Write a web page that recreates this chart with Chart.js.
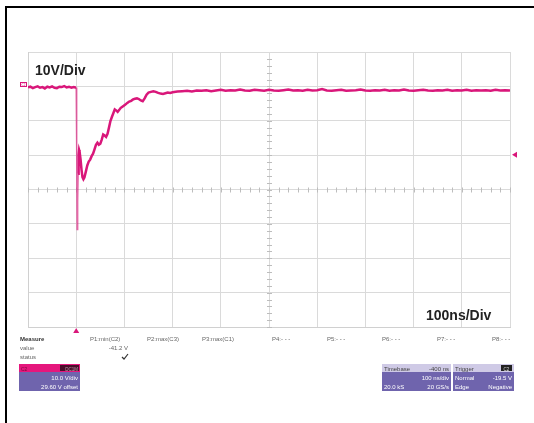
<!DOCTYPE html>
<html>
<head>
<meta charset="utf-8">
<script src="https://cdn.jsdelivr.net/npm/chart.js@4.4.0/dist/chart.umd.min.js"></script>
<style>
  html, body { margin: 0; padding: 0; background: #fff; }
  #wrap { position: relative; width: 534px; height: 423px; overflow: hidden; }
  #scope { position: absolute; left: 0; top: 0; }
  #frameTop { position: absolute; left: 5px; top: 6px; width: 529px; height: 2px; background: #000; }
  #frameLeft { position: absolute; left: 5px; top: 6px; width: 2px; height: 417px; background: #000; }
</style>
</head>
<body>
<div id="wrap">
  <canvas id="scope" width="534" height="423"></canvas>
  <div id="frameTop"></div>
  <div id="frameLeft"></div>
</div>
<script>
// Scope settings
const xTicks = [-100, 0, 100, 200, 300, 400, 500, 600, 700, 800, 900];        // ns, 100 ns/div
const yTicks = [-69.6, -59.6, -49.6, -39.6, -29.6, -19.6, -9.6, 0.4, 10.4];   // V, 10 V/div, 29.6 V offset
const centerTime = 400;
const centerVolt = -29.6;
const triggerLevel = -19.5;

// C2 trace
const timeNs = [
  -100, -95, -90, -85, -80, -75, -70, -65, -60, -55, -50, -45, -40, -35, -30, -25, -20, -15, -10, -5, -2,
  0, 1, 2, 3, 4, 5, 6, 7, 9, 11, 13, 15, 17, 20, 23, 26, 29, 32, 35, 38, 41, 44, 47, 50, 53, 56, 59, 62,
  65, 68, 71, 74, 77, 80, 83, 86, 89, 92, 95, 98, 102, 106, 110, 114, 118, 122, 126, 130, 134, 138, 142,
  146, 150, 155, 160, 165, 170, 175, 180, 185, 190, 195,
  200, 210, 220, 230, 240, 250, 260, 270, 280, 290,
  300, 310, 320, 330, 340, 350, 360, 370, 380, 390,
  400, 410, 420, 430, 440, 450, 460, 470, 480, 490,
  500, 510, 520, 530, 540, 550, 560, 570, 580, 590,
  600, 610, 620, 630, 640, 650, 660, 670, 680, 690,
  700, 710, 720, 730, 740, 750, 760, 770, 780, 790,
  800, 810, 820, 830, 840, 850, 860, 870, 880, 890, 900
];
const voltsC2 = [
  0.1, 0.3, -0.1, 0.2, 0.4, 0.0, 0.2, -0.2, 0.3, 0.1, 0.4, 0.0, -0.1, 0.3, 0.2, 0.5, 0.1, 0.3, 0.0, 0.2, 0.1,
  0.1, -17, -41.2, -33, -25, -19.5, -18.1, -18.6, -20.8, -23.8, -26.0, -26.6, -26.1, -24.4, -22.6, -21.5,
  -20.9, -19.9, -19.2, -17.9, -16.6, -16.0, -16.6, -16.3, -15.1, -13.6, -13.9, -14.3,
  -13.4, -11.6, -9.7, -8.5, -7.4, -6.3, -6.6, -7.0, -6.5, -5.9, -5.6, -5.3, -4.9, -4.4, -4.0, -3.8, -3.4,
  -3.2, -3.1, -3.3, -3.7, -3.9, -3.1,
  -2.0, -1.4, -1.2, -1.0, -1.2, -1.5, -1.7, -1.8, -1.6, -1.4, -1.5,
  -1.3, -1.1, -1.0, -0.9, -1.1, -0.8, -0.9, -0.7, -1.0, -0.8,
  -0.6, -0.9, -0.7, -0.8, -0.5, -0.8, -0.9, -0.6, -0.7, -0.9,
  -0.6, -0.8, -0.9, -0.7, -0.5, -0.8, -0.7, -0.9, -0.6, -0.8,
  -0.7, -0.4, -0.8, -0.9, -0.7, -0.6, -0.9, -0.8, -0.7, -0.5,
  -0.8, -0.9, -0.7, -0.8, -0.6, -0.9, -0.7, -0.8, -0.5, -0.8,
  -0.9, -0.7, -0.6, -0.8, -0.9, -0.7, -0.8, -0.6, -0.9, -0.7,
  -0.8, -0.6, -0.9, -0.7, -0.8, -0.7, -0.9, -0.6, -0.8, -0.7, -0.8
];

// Measurement bar
const measureNames = ['P1:min(C2)', 'P2:max(C3)', 'P3:max(C1)', 'P4:- - -', 'P5:- - -', 'P6:- - -', 'P7:- - -', 'P8:- - -'];
const measureX = [90, 147, 202, 272, 327, 382, 437, 492];
const measureValue = '-41.2 V';

const PINK = '#d9177a';
const PURPLE = '#6f64ad';
const HEADER = '#cfcae6';

function txt(ctx, s, x, y, font, color, align) {
    ctx.font = font;
    ctx.fillStyle = color;
    ctx.textAlign = align || 'left';
    ctx.textBaseline = 'alphabetic';
    ctx.fillText(s, x, y);
}

// Minor ticks on the centre cross, like on the scope screen
const centerTicks = {
    id: 'centerTicks',
    beforeDatasetsDraw(chart) {
        const { ctx, scales: { x, y } } = chart;
        const cy = y.getPixelForValue(centerVolt);
        const cx = x.getPixelForValue(centerTime);
        ctx.save();
        ctx.strokeStyle = '#bdbdbd';
        ctx.lineWidth = 1;
        ctx.beginPath();
        for (let t = -100; t <= 900; t += 20) {
            const px = Math.round(x.getPixelForValue(t)) + 0.5;
            ctx.moveTo(px, cy - 2);
            ctx.lineTo(px, cy + 3);
        }
        for (let v = -68; v <= 10; v += 2) {
            const py = Math.round(y.getPixelForValue(v - 1.6)) + 0.5;
            ctx.moveTo(cx - 2, py);
            ctx.lineTo(cx + 3, py);
        }
        ctx.stroke();
        ctx.restore();
    }
};

// Labels, markers and the status bar below the grid
const scopeDecor = {
    id: 'scopeDecor',
    afterDraw(chart) {
        const { ctx, scales: { x, y } } = chart;
        ctx.save();

        txt(ctx, '10V/Div', 35, 75, 'bold 14px "Liberation Sans", Arial, sans-serif', '#222');
        txt(ctx, '100ns/Div', 426, 320, 'bold 14px "Liberation Sans", Arial, sans-serif', '#222');

        // ground tag of C2
        const gy = Math.round(y.getPixelForValue(0));
        ctx.strokeStyle = PINK;
        ctx.lineWidth = 1;
        ctx.strokeRect(20.5, gy - 5.5, 6, 4);
        txt(ctx, 'C2', 23.5, gy - 2, '3px sans-serif', PINK, 'center');

        // trigger time marker (bottom)
        const tx = x.getPixelForValue(0);
        ctx.fillStyle = PINK;
        ctx.beginPath();
        ctx.moveTo(tx - 3, 333);
        ctx.lineTo(tx + 3, 333);
        ctx.lineTo(tx, 328);
        ctx.closePath();
        ctx.fill();

        // trigger level marker (right)
        const ty = y.getPixelForValue(triggerLevel);
        ctx.beginPath();
        ctx.moveTo(512, ty);
        ctx.lineTo(517, ty - 3);
        ctx.lineTo(517, ty + 3);
        ctx.closePath();
        ctx.fill();

        // measure table
        const small = '6px "Liberation Sans", Arial, sans-serif';
        txt(ctx, 'Measure', 20, 341, 'bold 6px "Liberation Sans", Arial, sans-serif', '#333');
        txt(ctx, 'value', 20, 350, small, '#666');
        txt(ctx, 'status', 20, 359, small, '#666');
        measureNames.forEach((n, i) => txt(ctx, n, measureX[i], 341, small, '#666'));
        txt(ctx, measureValue, 128, 350, small, '#666', 'right');
        ctx.strokeStyle = '#333';
        ctx.lineWidth = 1.2;
        ctx.beginPath();
        ctx.moveTo(122, 357);
        ctx.lineTo(124, 359);
        ctx.lineTo(128, 354);
        ctx.stroke();

        // channel box
        ctx.fillStyle = '#e5177d';
        ctx.fillRect(19, 364, 61, 8);
        ctx.fillStyle = '#4a0d2a';
        ctx.fillRect(60, 365, 19, 6);
        txt(ctx, 'C2', 21, 370.5, '5px "Liberation Sans", Arial, sans-serif', '#7a0a3c');
        txt(ctx, 'DC1M', 78, 370.5, '4.5px "Liberation Sans", Arial, sans-serif', '#c0a0b0', 'right');
        ctx.fillStyle = PURPLE;
        ctx.fillRect(19, 372, 61, 19);
        txt(ctx, '10.0 V/div', 78, 380, small, '#fff', 'right');
        txt(ctx, '29.60 V offset', 78, 389, small, '#fff', 'right');

        // timebase box
        ctx.fillStyle = HEADER;
        ctx.fillRect(382, 364, 69, 8);
        txt(ctx, 'Timebase', 384, 370.5, small, '#444');
        txt(ctx, '-400 ns', 449, 370.5, small, '#444', 'right');
        ctx.fillStyle = PURPLE;
        ctx.fillRect(382, 372, 69, 19);
        txt(ctx, '100 ns/div', 449, 380, small, '#fff', 'right');
        txt(ctx, '20.0 kS', 384, 389, small, '#fff');
        txt(ctx, '20 GS/s', 449, 389, small, '#fff', 'right');

        // trigger box
        ctx.fillStyle = HEADER;
        ctx.fillRect(453, 364, 61, 8);
        txt(ctx, 'Trigger', 455, 370.5, small, '#444');
        ctx.fillStyle = '#222';
        ctx.fillRect(501, 365, 11, 6);
        txt(ctx, 'C2', 506.5, 370.5, '4.5px "Liberation Sans", Arial, sans-serif', '#ddd', 'center');
        ctx.fillStyle = PURPLE;
        ctx.fillRect(453, 372, 61, 19);
        txt(ctx, 'Normal', 455, 380, small, '#fff');
        txt(ctx, '-19.5 V', 512, 380, small, '#fff', 'right');
        txt(ctx, 'Edge', 455, 389, small, '#fff');
        txt(ctx, 'Negative', 512, 389, small, '#fff', 'right');

        ctx.restore();
    }
};

const gridColor = ctx => '#dadada';

new Chart(document.getElementById('scope'), {
    type: 'line',
    data: {
        datasets: [{
            label: 'C2',
            data: timeNs.map((t, i) => ({ x: t, y: voltsC2[i] })),
            borderColor: PINK,
            borderWidth: 2.5,
            pointRadius: 0,
            tension: 0,
            segment: {
                // fast edges look fainter on the scope
                borderColor: c => Math.abs(c.p1.parsed.y - c.p0.parsed.y) > 6 ? 'rgba(217,23,122,0.65)' : undefined,
                borderWidth: c => Math.abs(c.p1.parsed.y - c.p0.parsed.y) > 6 ? 1.5 : undefined
            }
        }]
    },
    options: {
        responsive: false,
        animation: false,
        devicePixelRatio: 1,
        layout: { padding: { left: 28, right: 24, top: 52, bottom: 96 } },
        plugins: { legend: { display: false }, tooltip: { enabled: false } },
        scales: {
            x: {
                type: 'linear',
                min: -100,
                max: 900,
                afterBuildTicks: s => { s.ticks = xTicks.map(v => ({ value: v })); },
                ticks: { display: false },
                grid: { color: gridColor, drawTicks: false },
                border: { color: '#d0d0d0' }
            },
            y: {
                type: 'linear',
                min: -69.6,
                max: 10.4,
                afterBuildTicks: s => { s.ticks = yTicks.map(v => ({ value: v })); },
                ticks: { display: false },
                grid: { color: gridColor, drawTicks: false },
                border: { color: '#d0d0d0' }
            }
        }
    },
    plugins: [centerTicks, scopeDecor]
});
</script>
</body>
</html>
